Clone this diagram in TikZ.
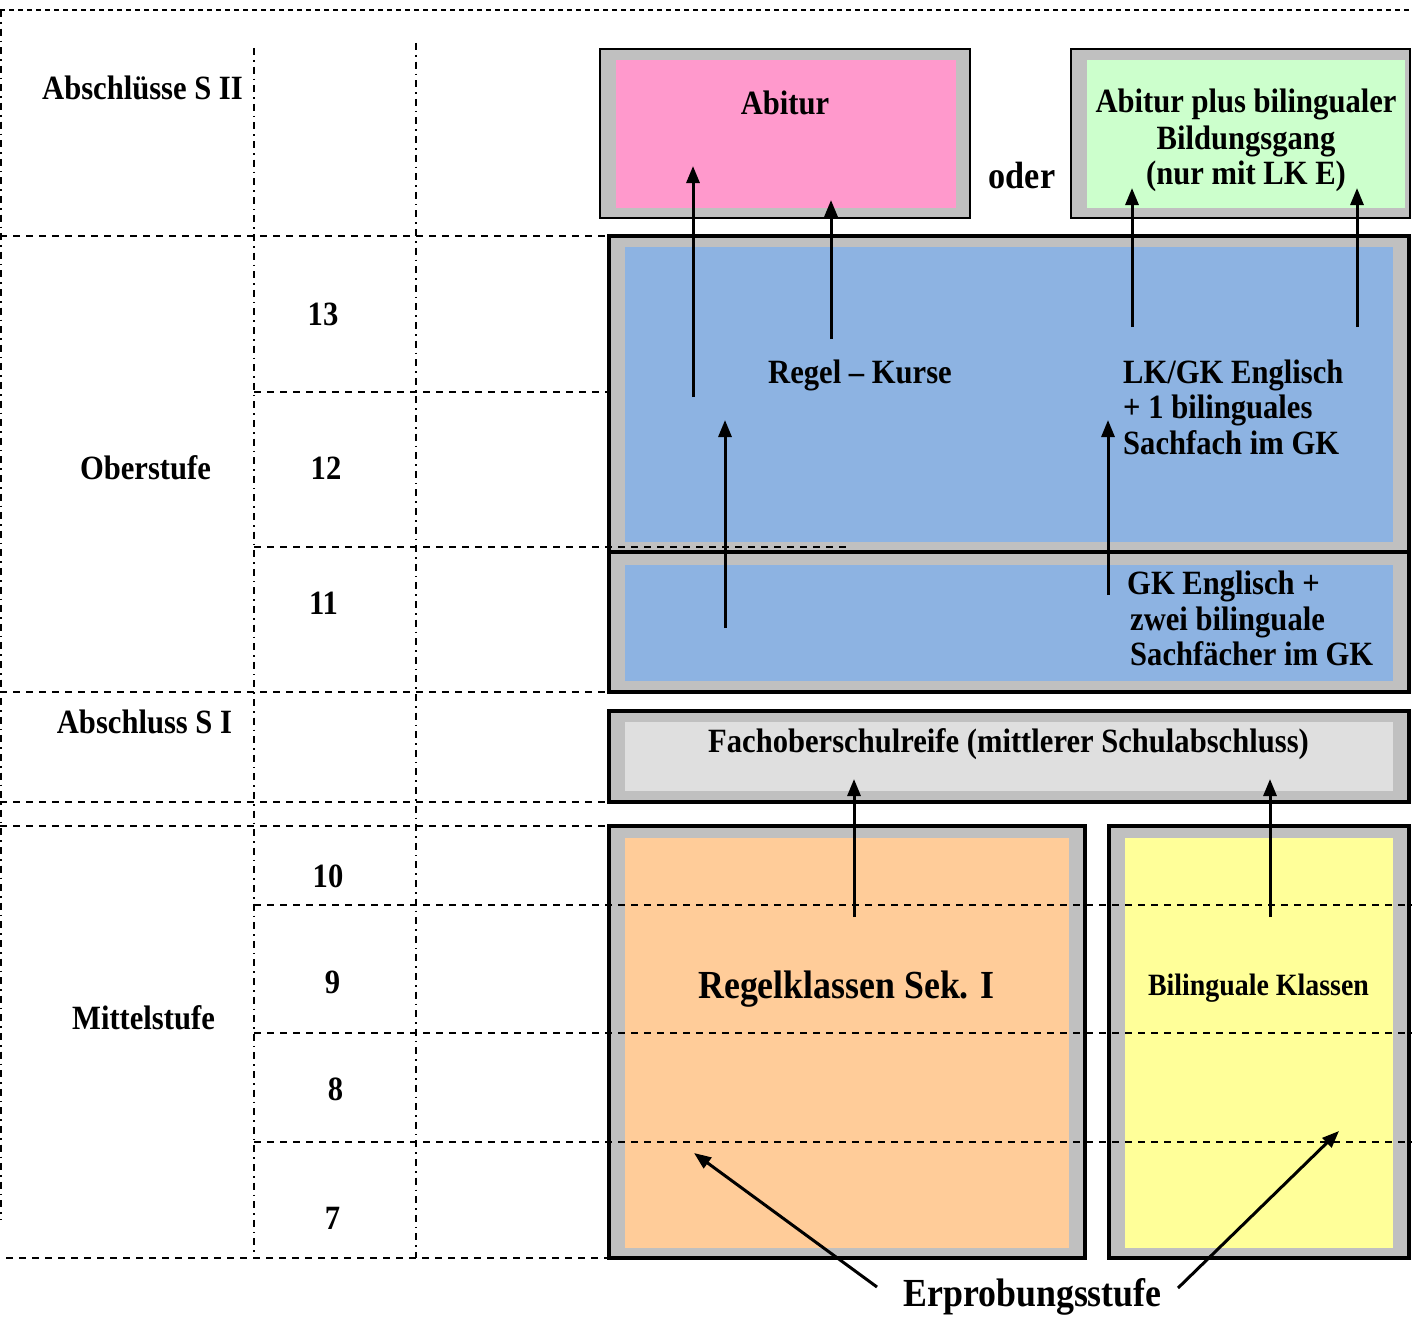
\documentclass[tikz,border=0pt]{standalone}
\usepackage{fontspec}
\setmainfont{Liberation Serif}[FakeStretch=0.9]
\usetikzlibrary{arrows.meta}
\definecolor{bandgray}{HTML}{C0C0C0}
\definecolor{pinkfill}{HTML}{FF99CC}
\definecolor{greenfill}{HTML}{CCFFCC}
\definecolor{bluefill}{HTML}{8DB3E2}
\definecolor{lightfill}{HTML}{DFDFDF}
\definecolor{orangefill}{HTML}{FFCC99}
\definecolor{yellowfill}{HTML}{FFFF99}
\begin{document}
\begin{tikzpicture}[x=1pt,y=-1pt,
  lbl/.style={font=\fontsize{34}{38}\selectfont\bfseries, inner sep=0pt, anchor=base},
  lbll/.style={lbl, anchor=base west},
  biglbl/.style={font=\fontsize{39.8}{44}\selectfont\bfseries, inner sep=0pt, anchor=base},
  odlbl/.style={font=\fontsize{38}{42}\selectfont\bfseries, inner sep=0pt, anchor=base},
  smalllbl/.style={font=\fontsize{31}{35}\selectfont\bfseries, inner sep=0pt, anchor=base},
  hdash/.style={line width=1.6pt, dash pattern=on 7pt off 6pt},
  topdash/.style={line width=1.6pt, dash pattern=on 5pt off 4pt},
  vdash/.style={line width=1.6pt, dash pattern=on 7pt off 5pt on 1.6pt off 5pt},
  thinbox/.style={draw=black, fill=bandgray, line width=2.5pt},
  thickbox/.style={draw=black, fill=bandgray, line width=4pt},
  arr/.style={line width=3pt, -{Triangle[length=17pt,width=13pt]}}
]
\useasboundingbox (0,0) rectangle (1412,1319);

% grid lines behind boxes
\draw[topdash] (0,10) -- (1412,10);
\draw[vdash] (1,10) -- (1,1220);
\draw[vdash] (254,48) -- (254,1258);
\draw[vdash] (416,43) -- (416,1258);
\draw[hdash] (0,236) -- (607,236);
\draw[hdash] (254,392) -- (608,392);
\draw[hdash] (0,692) -- (608,692);
\draw[hdash] (0,802) -- (608,802);
\draw[hdash] (0,826) -- (608,826);
\draw[hdash] (6,1258) -- (608,1258);

% boxes
\draw[thinbox] (600,49) rectangle (970,218);
\fill[pinkfill] (616,60) rectangle (956,208);
\draw[thinbox] (1071,49) rectangle (1410,218);
\fill[greenfill] (1087,60) rectangle (1405,208);

\fill[bandgray] (609,236) rectangle (1409,692);
\fill[bluefill] (625,247) rectangle (1393,542);
\fill[bluefill] (625,565) rectangle (1393,681);
\draw[line width=4pt] (609,236) rectangle (1409,692);
\draw[line width=4pt] (609,552) -- (1409,552);

\draw[thickbox] (609,711) rectangle (1409,802);
\fill[lightfill] (625,722) rectangle (1393,791);

\draw[thickbox] (609,826) rectangle (1085,1258);
\fill[orangefill] (625,838) rectangle (1069,1248);
\draw[thickbox] (1109,826) rectangle (1409,1258);
\fill[yellowfill] (1125,838) rectangle (1393,1248);

% grid lines over boxes
\draw[hdash] (254,547) -- (852,547);
\draw[hdash] (254,905) -- (1412,905);
\draw[hdash] (254,1033) -- (1412,1033);
\draw[hdash] (254,1142) -- (1412,1142);

% left column labels
\node[lbl] (abs2) at (142.5,100) {Abschlüsse S II};
\node[lbl] (ober) at (145.5,479) {Oberstufe};
\node[lbl] (abs1) at (144.5,733) {Abschluss S I};
\node[lbl] (mittel) at (143.5,1029) {Mittelstufe};
\node[lbl] (g13) at (323,325) {13};
\node[lbl] (g12) at (326,479) {12};
\node[lbl] (g11) at (323.5,614) {11};
\node[lbl] (g10) at (328,887) {10};
\node[lbl] (g9) at (332.5,993) {9};
\node[lbl] (g8) at (335.5,1100) {8};
\node[lbl] (g7) at (332.5,1229) {7};

% box texts
\node[lbl] (abitur) at (785,114) {Abitur};
\node[lbl] (bil1) at (1246,113) {Abitur plus bilingualer};
\node[lbl] (bil2) at (1246,149) {Bildungsgang};
\node[lbl] (bil3) at (1246,184) {(nur mit LK E)};
\node[odlbl] (oder) at (1022,188) {oder};
\node[lbl] (regel) at (860,383) {Regel – Kurse};
\node[lbll] (lk1) at (1123,383) {LK/GK Englisch};
\node[lbll] (lk2) at (1123,418) {+ 1 bilinguales};
\node[lbll] (lk3) at (1123,454) {Sachfach im GK};
\node[lbll] (gk1) at (1127,594) {GK Englisch +};
\node[lbll] (gk2) at (1130,630) {zwei bilinguale};
\node[lbll] (gk3) at (1130,665) {Sachfächer im GK};
\node[lbl] (fos) at (1008.5,752) {Fachoberschulreife (mittlerer Schulabschluss)};
\node[biglbl] (regkl) at (846.5,998) {Regelklassen Sek. I};
\node[smalllbl] (bilkl) at (1258.5,995) {Bilinguale Klassen};
\node[biglbl] (erpr) at (1032.5,1306) {Erprobungsstufe};

% arrows
\coordinate (a1s) at (693,397);  \coordinate (a1e) at (693,166);
\coordinate (a2s) at (831,339);  \coordinate (a2e) at (831,200);
\coordinate (a3s) at (1132,327); \coordinate (a3e) at (1132,188);
\coordinate (a4s) at (1357,327); \coordinate (a4e) at (1357,188);
\coordinate (a5s) at (725,628);  \coordinate (a5e) at (725,420);
\coordinate (a6s) at (1108,595); \coordinate (a6e) at (1108,420);
\coordinate (a7s) at (854,917);  \coordinate (a7e) at (854,779);
\coordinate (a8s) at (1270,917); \coordinate (a8e) at (1270,779);
\coordinate (a9s) at (877,1287); \coordinate (a9e) at (694,1153);
\coordinate (a10s) at (1178,1288); \coordinate (a10e) at (1339,1131);
\foreach \i in {1,...,10} {\draw[arr] (a\i s) -- (a\i e);}
\end{tikzpicture}
\end{document}
